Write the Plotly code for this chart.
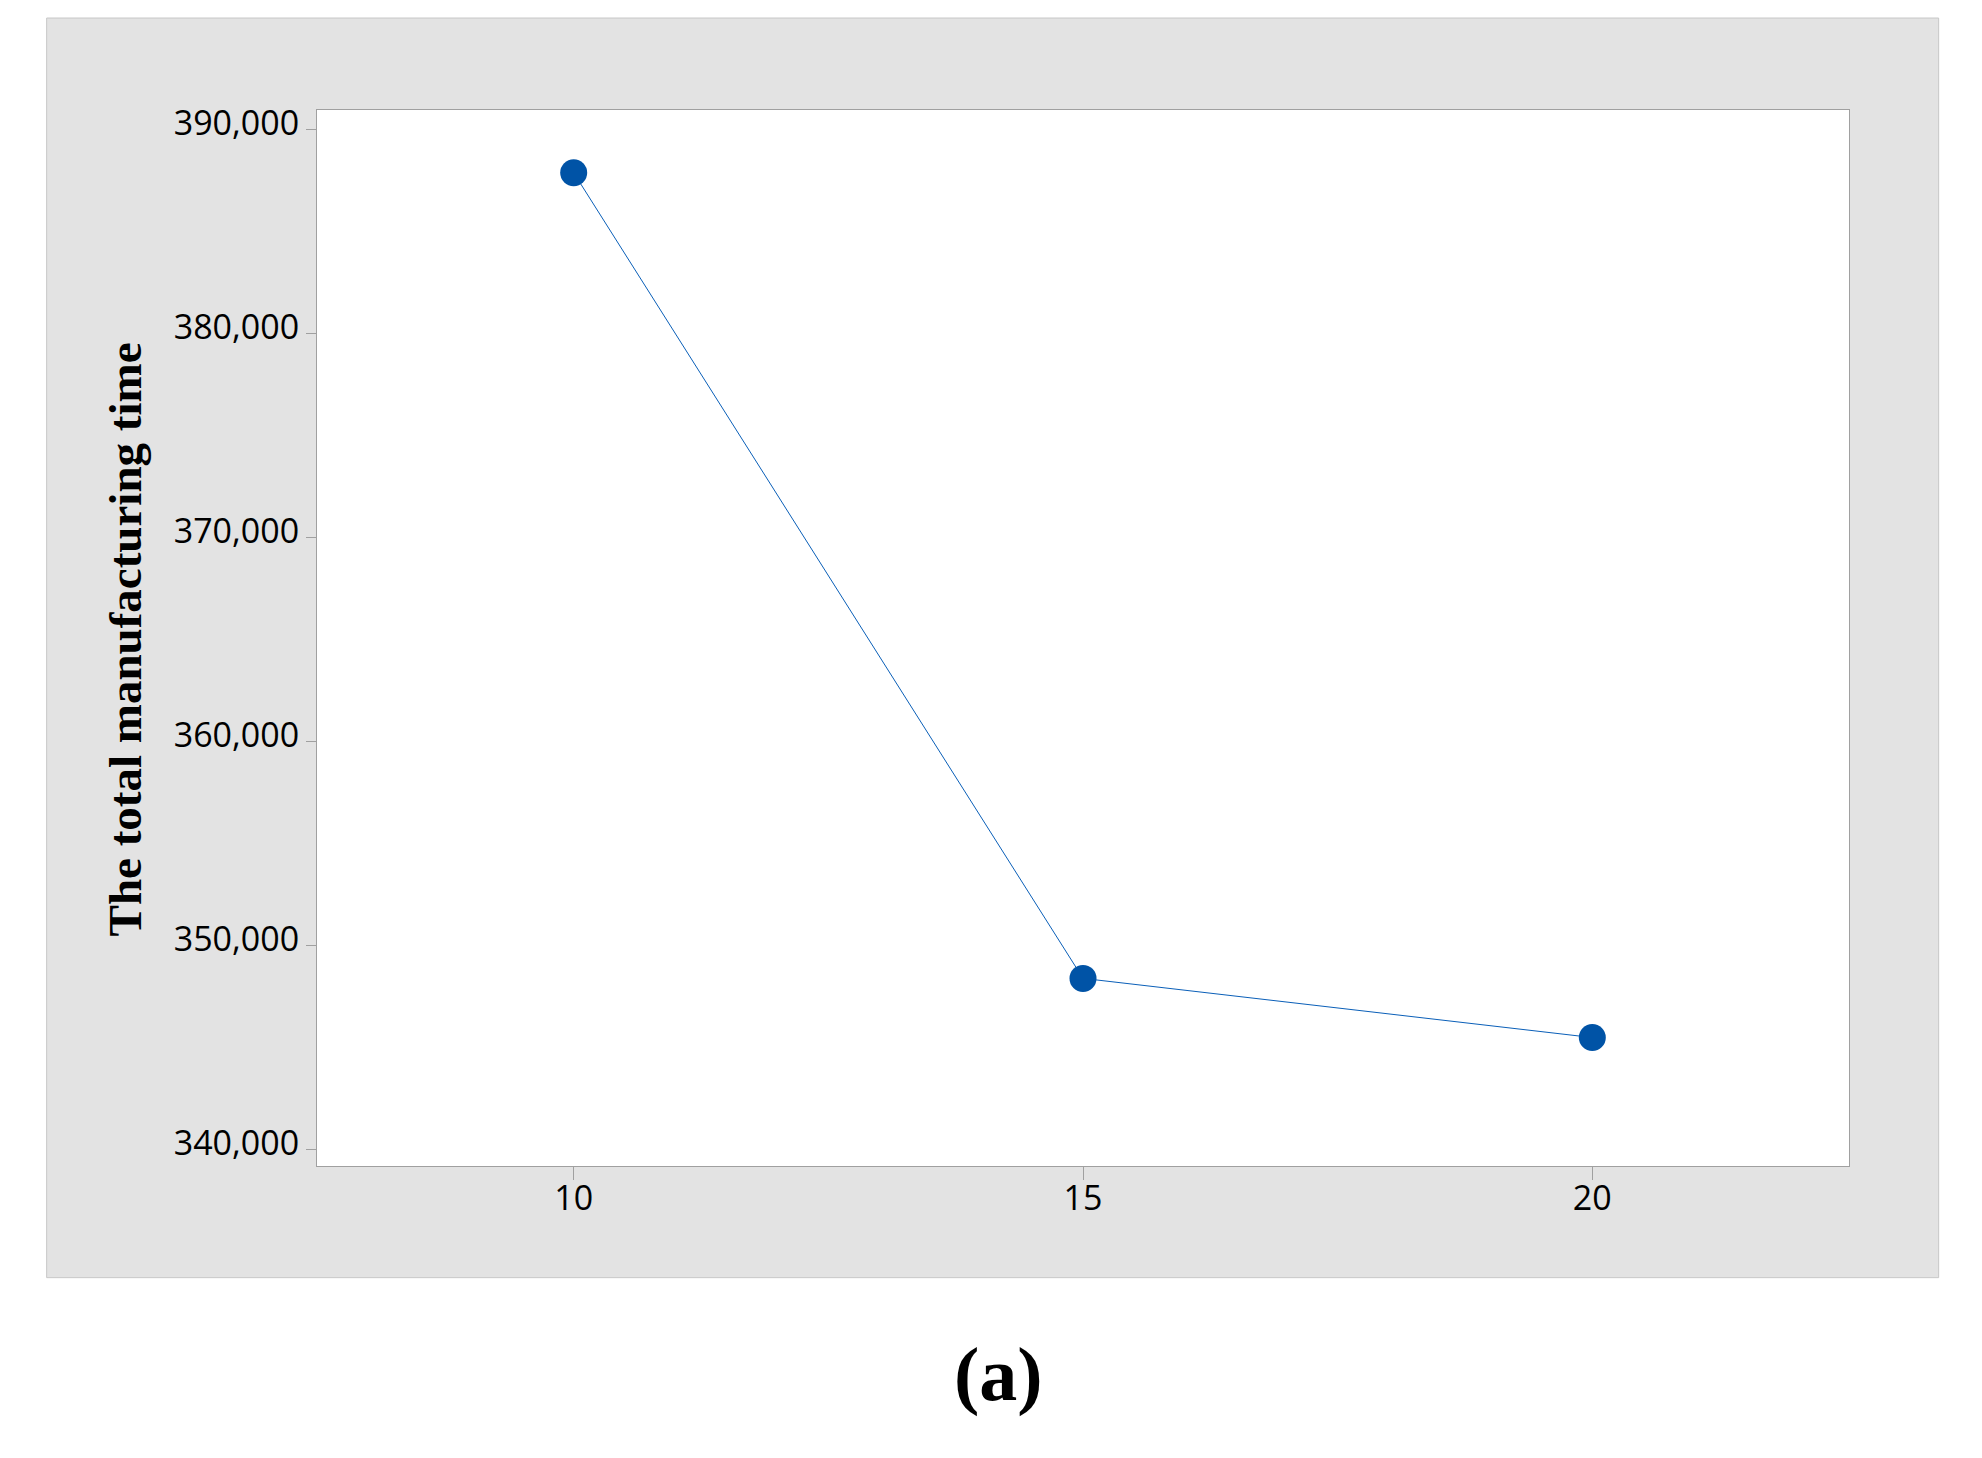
import plotly.graph_objects as go

# Data
x_values = [10, 15, 20]
y_values = [387900, 348400, 345500]
y_tick_values = [340000, 350000, 360000, 370000, 380000, 390000]
x_tick_values = [10, 15, 20]
y_title = "The total manufacturing time"
panel_label = "(a)"

OFF = 8  # default body margin of the html page
W, H = 1982 - OFF, 1458 - OFF
# plot area in page pixel coordinates
L, R, T, B = 316.5, 1849.3, 110, 1166.3

def px_x(p):
    return (p - L) / (R - L)

def px_y(p):
    return (B - p) / (B - T)

fig = go.Figure()
fig.add_trace(go.Scatter(
    x=x_values, y=y_values, mode="lines+markers",
    line=dict(color="#0a5fb8", width=1),
    marker=dict(color="#0053a6", size=27, line=dict(width=0)),
    showlegend=False, hoverinfo="x+y",
))

tickfont = dict(family="Open Sans, Noto Sans, sans-serif", size=34, color="#000000")

fig.update_layout(
    width=W, height=H,
    margin=dict(l=L - OFF, r=W - (R - OFF), t=T - OFF, b=H - (B - OFF), pad=0),
    paper_bgcolor="#ffffff",
    plot_bgcolor="#ffffff",
    xaxis=dict(
        range=[7.48, 22.52], tickvals=x_tick_values, ticktext=[str(v) for v in x_tick_values],
        ticks="outside", ticklen=13, tickwidth=1, tickcolor="#a0a0a0",
        showline=True, linecolor="#a0a0a0", linewidth=1, mirror=True,
        showgrid=False, zeroline=False, tickfont=tickfont,
        ticklabelstandoff=-11,
    ),
    yaxis=dict(
        range=[339201, 390980], tickvals=y_tick_values, tickformat=",d",
        ticks="outside", ticklen=10, tickwidth=1, tickcolor="#a0a0a0",
        showline=True, linecolor="#a0a0a0", linewidth=1, mirror=True,
        showgrid=False, zeroline=False, tickfont=tickfont,
        ticklabelshift=-7,
    ),
    shapes=[
        dict(type="rect", xref="paper", yref="paper", layer="below",
             x0=px_x(46), x1=px_x(1939), y0=px_y(1278), y1=px_y(18),
             fillcolor="#e3e3e3", line=dict(color="#c8c8c8", width=1)),
        dict(type="rect", xref="paper", yref="paper", layer="below",
             x0=0, x1=1, y0=0, y1=1,
             fillcolor="#ffffff", line=dict(width=0)),
    ],
    annotations=[
        dict(text="<b>" + y_title + "</b>", xref="paper", yref="paper",
             x=px_x(124), y=px_y(640), xanchor="center", yanchor="middle",
             textangle=-90, showarrow=False,
             font=dict(family="Liberation Serif, Times New Roman, serif", size=47, color="#000000")),
        dict(text="<b>" + panel_label + "</b>", xref="paper", yref="paper",
             x=px_x(998), y=px_y(1375), xanchor="center", yanchor="middle",
             showarrow=False,
             font=dict(family="Liberation Serif, Times New Roman, serif", size=76, color="#000000")),
    ],
)

fig.write_html("out.html")
